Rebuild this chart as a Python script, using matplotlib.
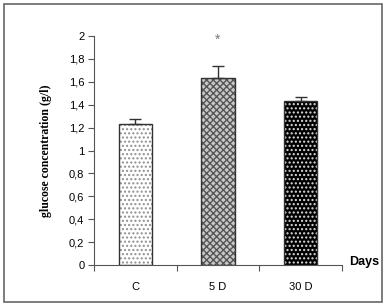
import matplotlib.pyplot as plt
from matplotlib.patches import Rectangle

groups = ["C", "5 D", "30 D"]
glucose = [1.23, 1.63, 1.43]
sem = [0.05, 0.11, 0.04]
yticks = [0, 0.2, 0.4, 0.6, 0.8, 1, 1.2, 1.4, 1.6, 1.8, 2]
ylabels = ["0", "0,2", "0,4", "0,6", "0,8", "1", "1,2", "1,4", "1,6", "1,8", "2"]

faces = ["white", "#c8c8c8", "black"]
hatch_cols = ["#909090", "#555555", "#dddddd"]
hatches = ["....", "xxxxx", "...."]

fig = plt.figure(figsize=(3.86, 3.06), dpi=100)
ax = fig.add_axes([0.2435, 0.134, 0.6425, 0.748])

x = range(len(groups))
for i in x:
    # hatch layer, then outline on top
    ax.bar(i, glucose[i], width=0.4, color=faces[i], edgecolor=hatch_cols[i],
           hatch=hatches[i], linewidth=0, zorder=2)
    ax.bar(i, glucose[i], width=0.4, fill=False, edgecolor="#333333",
           linewidth=1, zorder=3)
ax.errorbar(list(x), glucose, yerr=[[0] * 3, sem], fmt="none", ecolor="#333333",
            elinewidth=1, capsize=4, capthick=1, zorder=4)

ax.text(1, 1.965, "*", ha="center", va="center", fontsize=10, color="#777777",
        family="Liberation Sans")

ax.set_xlim(-0.5, 2.5)
ax.set_ylim(0, 2)
ax.set_yticks(yticks)
ax.set_yticklabels(ylabels, family="Liberation Sans", fontsize=8)
ax.set_xticks(list(x))
ax.set_xticklabels(groups, family="Liberation Sans", fontsize=8)
ax.set_xticks([-0.5, 0.5, 1.5, 2.5], minor=True)
ax.tick_params(axis="x", which="major", length=0, pad=12)
ax.tick_params(axis="x", which="minor", length=4, width=0.8, color="#555555")
ax.tick_params(axis="y", length=4, width=0.8, color="#555555", pad=3)

for s in ["top", "right"]:
    ax.spines[s].set_visible(False)
for s in ["left", "bottom"]:
    ax.spines[s].set_color("#555555")
    ax.spines[s].set_linewidth(0.8)

ax.set_ylabel("glucose concentration (g/l)", family="Liberation Serif",
              fontweight="bold", fontsize=8.5, labelpad=12)
fig.text(0.943, 0.143, "Days", family="Liberation Sans", fontweight="bold",
         fontsize=9, ha="center", va="center")

fig.patches.append(Rectangle((0.011, 0.013), 0.979, 0.974, transform=fig.transFigure,
                             fill=False, edgecolor="#666666", linewidth=1.2))

fig.savefig("out.png", dpi=100)
